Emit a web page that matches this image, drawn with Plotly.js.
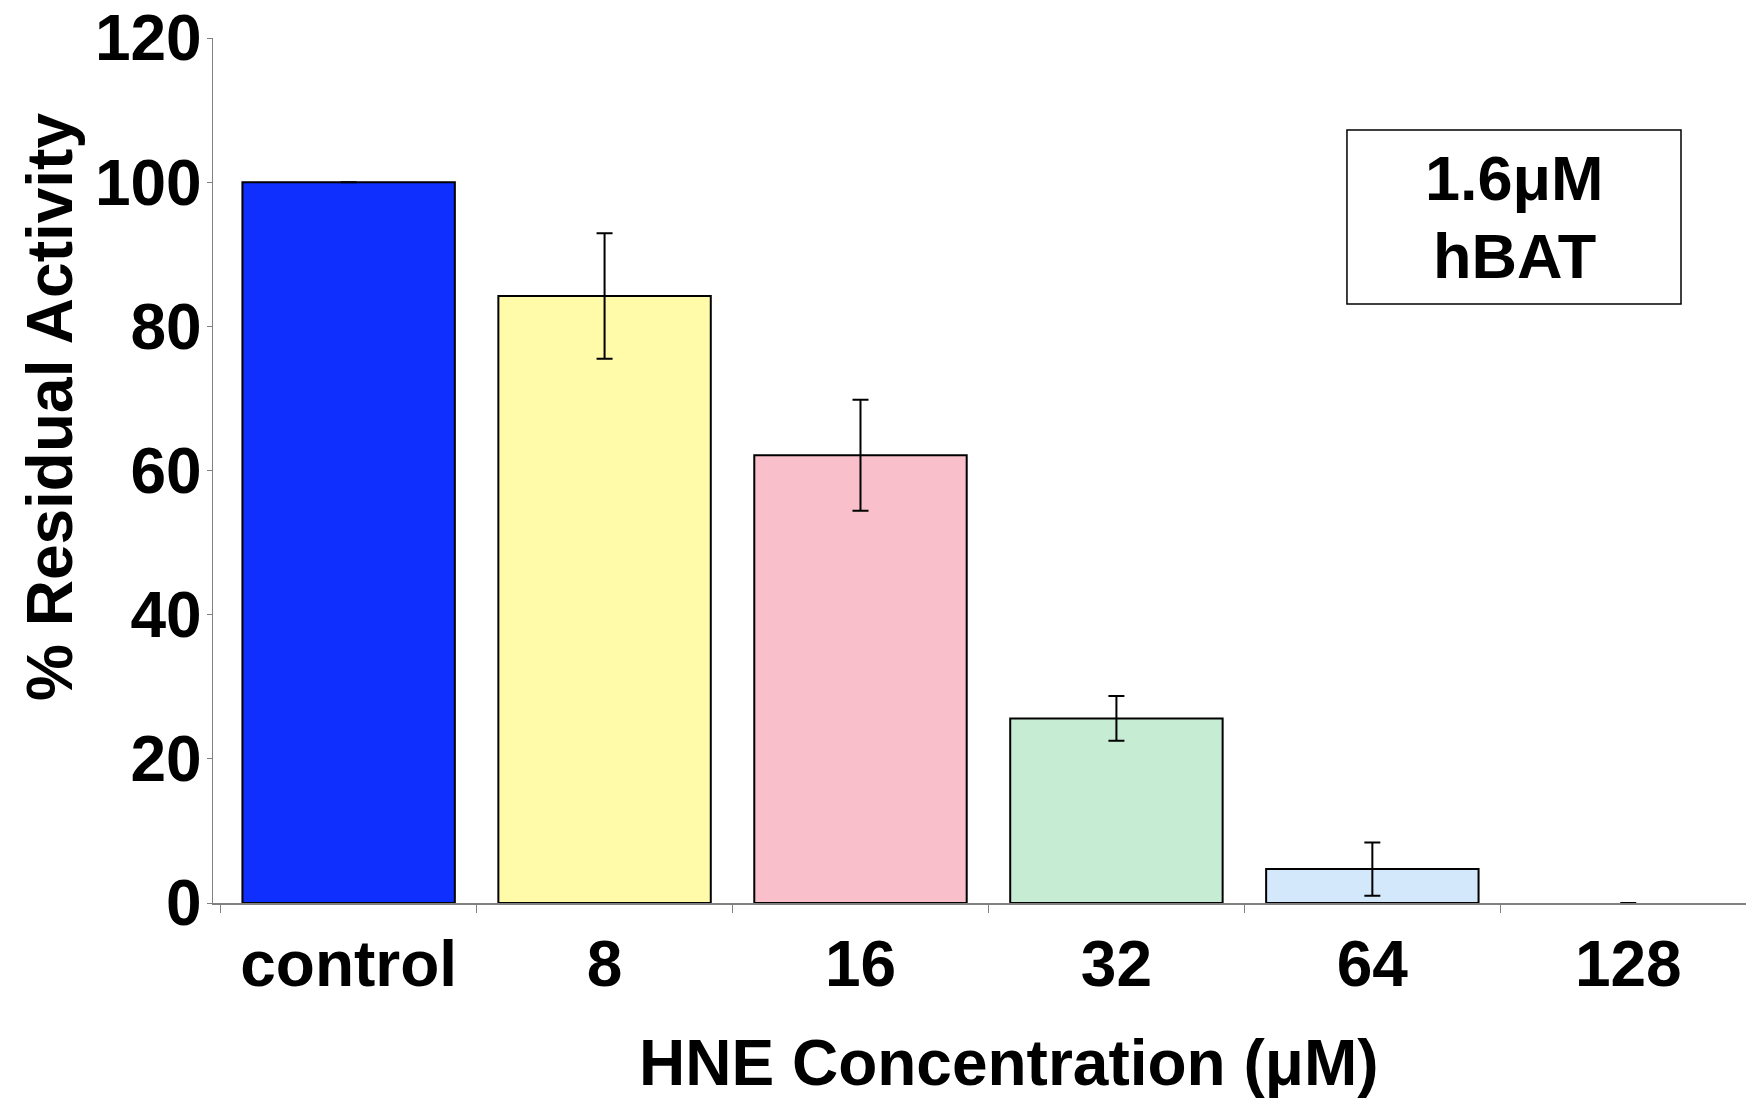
<!DOCTYPE html>
<html>
<head>
<meta charset="utf-8">
<script src="https://cdn.plot.ly/plotly-3.0.1.min.js"></script>
<style>html,body{margin:0;padding:0;background:#fff;}#chart{width:1746px;height:1099px;}</style>
</head>
<body>
<div id="chart"></div>
<script>
const categories = ["control", "8", "16", "32", "64", "128"];
const residualActivity = [100, 84.2, 62.1, 25.6, 4.7, 0];
const errorValues = [0, 8.7, 7.7, 3.1, 3.7, 0];
const barColors = ["#0f2fff", "#fffba8", "#f9c0cb", "#c6ecd4", "#d3e8fb", "#ffffff"];
const outlineWidths = [2, 2, 2, 2, 2, 0];
const yTicks = [0, 20, 40, 60, 80, 100, 120];
const xTitle = "HNE Concentration (μM)";
const yTitle = "% Residual Activity";
const boxLines = ["1.6μM", "hBAT"];

const FONT = "Liberation Sans, Arial, Helvetica, sans-serif";

const trace = {
  type: "bar",
  x: categories,
  y: residualActivity,
  marker: { color: barColors, line: { color: "#000000", width: outlineWidths } },
  error_y: { type: "data", array: errorValues, visible: true, color: "#000000", thickness: 2, width: 8 },
  hoverinfo: "none"
};

const layout = {
  width: 1746,
  height: 1099,
  margin: { l: 213, r: 0, t: 38, b: 196, pad: 0 },
  paper_bgcolor: "#ffffff",
  plot_bgcolor: "#ffffff",
  showlegend: false,
  bargap: 0.17,
  font: { family: FONT, color: "#000000" },
  xaxis: {
    type: "category",
    range: [-0.53, 5.46],
    showline: true,
    linecolor: "#808080",
    linewidth: 1.5,
    showgrid: false,
    zeroline: false,
    ticks: "outside",
    tickson: "boundaries",
    ticklen: 8,
    tickwidth: 1,
    tickcolor: "#808080",
    ticklabelstandoff: 5,
    tickfont: { family: FONT, size: 64, color: "#000000", weight: "bold" }
  },
  yaxis: {
    range: [0, 120],
    tickvals: yTicks,
    ticktext: yTicks.map(String),
    showline: true,
    linecolor: "#808080",
    linewidth: 1.5,
    showgrid: false,
    zeroline: false,
    ticks: "outside",
    ticklen: 5,
    tickwidth: 1,
    tickcolor: "#808080",
    ticklabelstandoff: -8,
    tickfont: { family: FONT, size: 64, color: "#000000", weight: "bold" }
  },
  shapes: [
    { type: "rect", xref: "paper", yref: "paper", x0: 0.7397, x1: 0.9576, y0: 0.6925, y1: 0.8936,
      line: { color: "#000000", width: 1.5 }, fillcolor: "rgba(0,0,0,0)" }
  ],
  annotations: [
    { text: boxLines[0], xref: "paper", yref: "paper", x: 0.8487, y: (903 - 178) / 865,
      xanchor: "center", yanchor: "middle", showarrow: false,
      font: { family: FONT, size: 63, color: "#000000", weight: "bold" } },
    { text: boxLines[1], xref: "paper", yref: "paper", x: 0.8487, y: (903 - 256) / 865,
      xanchor: "center", yanchor: "middle", showarrow: false,
      font: { family: FONT, size: 63, color: "#000000", weight: "bold" } },
    { text: xTitle, xref: "paper", yref: "paper", x: (1009 - 213) / 1533, y: (903 - 1063) / 865,
      xanchor: "center", yanchor: "middle", showarrow: false,
      font: { family: FONT, size: 64, color: "#000000", weight: "bold" } },
    { text: yTitle, xref: "paper", yref: "paper", x: (50 - 213) / 1533, y: (903 - 407) / 865,
      xanchor: "center", yanchor: "middle", showarrow: false, textangle: -90,
      font: { family: FONT, size: 64, color: "#000000", weight: "bold" } }
  ]
};

Plotly.newPlot("chart", [trace], layout, { displayModeBar: false, staticPlot: true });
</script>
</body>
</html>
